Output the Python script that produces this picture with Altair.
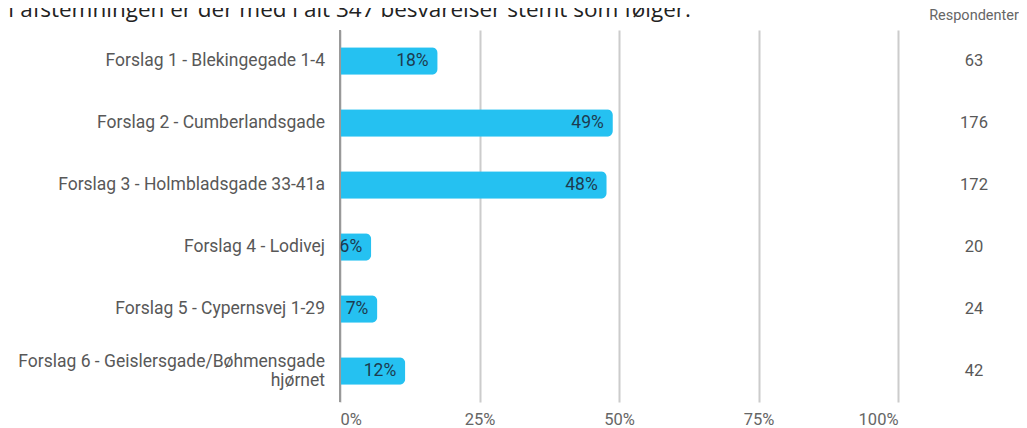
import altair as alt
import pandas as pd

categories = [
    "Forslag 1 - Blekingegade 1-4",
    "Forslag 2 - Cumberlandsgade",
    "Forslag 3 - Holmbladsgade 33-41a",
    "Forslag 4 - Lodivej",
    "Forslag 5 - Cypernsvej 1-29",
    "Forslag 6 - Geislersgade/Bøhmensgade\nhjørnet",
]
share_pct = [17.5, 48.9, 47.8, 5.6, 6.7, 11.7]
share_labels = ["18%", "49%", "48%", "6%", "7%", "12%"]
respondents = [63, 176, 172, 20, 24, 42]
tick_values = [0, 25, 50, 75, 100]
intro_text = "I afstemningen er der med i alt 347 besvarelser stemt som følger:"
column_header = "Respondenter"

df = pd.DataFrame({
    "cat": categories,
    "pct": share_pct,
    "label": share_labels,
    "resp": [str(r) for r in respondents],
})

W, H = 558, 372
FONT = "Roboto"
LINE_H = 19

yenc = alt.Y("cat:N", sort=categories, axis=None,
             scale=alt.Scale(paddingInner=0.56, paddingOuter=0.28))
xscale = alt.Scale(domain=[0, 100])

base = alt.Chart(df)

bars = base.mark_bar(cornerRadiusEnd=6, color="#25c1f1").encode(
    x=alt.X("pct:Q", scale=xscale,
            axis=alt.Axis(values=tick_values, labelExpr="datum.value + '%'",
                          grid=True, gridColor="#cccccc", gridWidth=2,
                          domain=False, ticks=False, labelPadding=9,
                          labelFlush=True,
                          labelFontSize=16.5, labelColor="#666666",
                          labelFont=FONT, title=None)),
    y=yenc,
)

zero_rule = alt.Chart(pd.DataFrame({"v": [0]})).mark_rule(
    color="#999999", strokeWidth=2).encode(
    x=alt.X("v:Q", scale=xscale))

pct_text = base.mark_text(align="right", baseline="middle", dx=-9,
                          fontSize=17.5, font=FONT, color="#1d3b4f").encode(
    x=alt.X("pct:Q", scale=xscale), y=yenc, text="label:N")

cat_style = dict(align="right", baseline="middle", fontSize=17.5, font=FONT,
                 color="#585858", lineBreak="\n", lineHeight=LINE_H)

cat_single = base.transform_filter("indexof(datum.cat, '\\n') < 0").mark_text(
    **cat_style).encode(x=alt.value(-15), y=yenc, text="cat:N")

cat_multi = base.transform_filter("indexof(datum.cat, '\\n') >= 0").mark_text(
    dy=-LINE_H / 2, **cat_style).encode(x=alt.value(-15), y=yenc, text="cat:N")

resp_text = base.mark_text(align="center", baseline="middle", fontSize=16.5,
                           font=FONT, color="#585858").encode(
    x=alt.value(634), y=yenc, text="resp:N")

header = alt.Chart(pd.DataFrame({"t": [column_header]})).mark_text(
    align="center", baseline="middle", fontSize=14.5, font=FONT,
    color="#666666").encode(x=alt.value(634), y=alt.value(-14), text="t:N")

intro = alt.Chart(pd.DataFrame({"t": [intro_text]})).mark_text(
    align="left", baseline="alphabetic", fontSize=22.5, font="Open Sans",
    color="#222222").encode(x=alt.value(-332), y=alt.value(-13), text="t:N")

chart = alt.layer(bars, zero_rule, pct_text, cat_single, cat_multi, resp_text,
                  header, intro).properties(
    width=W, height=H,
    autosize=alt.AutoSizeParams(type="none"),
    padding={"left": 332, "top": 22, "right": 121, "bottom": 26},
).configure_view(stroke=None)

chart.save("out.html", embed_options={"renderer": "svg", "actions": False})
